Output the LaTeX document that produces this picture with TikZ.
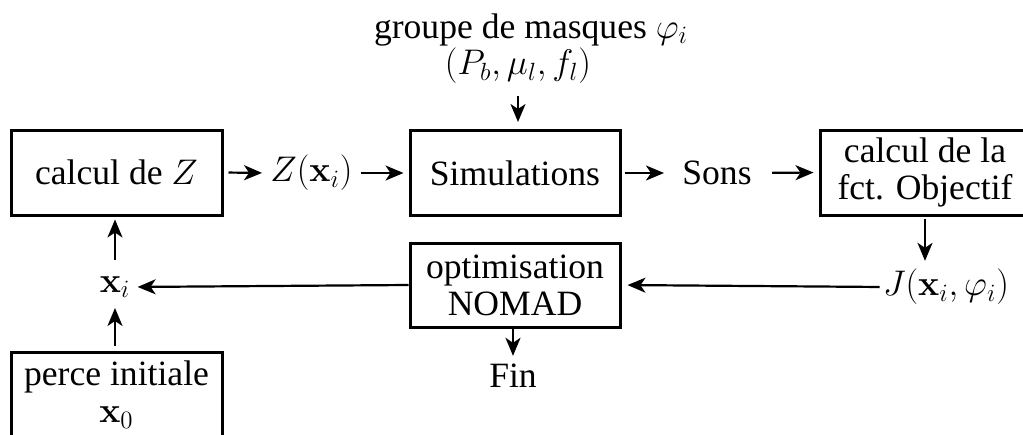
\RequirePackage{fix-cm}
\documentclass[tikz,border=0pt]{standalone}
\usepackage[no-math]{fontspec}
\setmainfont{Liberation Serif}
\usetikzlibrary{arrows.meta}
\begin{document}
\begin{tikzpicture}[x=0.5pt,y=-0.5pt,
  box/.style={draw, line width=1.5pt, inner sep=0pt, minimum height=42.5pt, align=center},
  lbl/.style={inner sep=0pt},
  arr/.style={line width=1.1pt, -{Stealth[length=9pt,width=7.5pt,inset=2.5pt]}},
  font=\fontsize{17.8}{18.5}\selectfont]
\useasboundingbox (0,0) rectangle (1023,434);
\clip (0,0) rectangle (1023,434);
\node[box, minimum width=105.5pt] (calcZ) at (116.5,172.5) {calcul de $Z$};
\node[lbl] (Zx) at (311.5,173) {$Z(\mathbf{x}_i)$};
\node[box, minimum width=105pt] (sim) at (515,173) {Simulations};
\node[lbl] (sons) at (717,173) {Sons};
\node[box, minimum width=105pt] (obj) at (925,172.5) {calcul de la\\fct. Objectif};
\node[lbl] (J) at (946,287) {$J(\mathbf{x}_i,\varphi_i)$};
\node[box, minimum width=105pt, minimum height=42pt] (nomad) at (515,285) {optimisation\\NOMAD};
\node[lbl] (xi) at (115,287) {$\mathbf{x}_i$};
\node[box, minimum width=105.5pt] (perce) at (116.5,394.5) {perce initiale\\$\mathbf{x}_0$};
\node[lbl] (fin) at (513,376) {Fin};
\node[lbl] (grp) at (531,30) {groupe de masques $\varphi_i$};
\node[lbl] (par) at (518,66) {$(P_b,\mu_l,f_l)$};
\draw[arr, shorten <=2.5pt, shorten >=4pt] (calcZ.east) -- (Zx.west);
\draw[arr, shorten <=4pt, shorten >=2.5pt] (Zx.east) -- (sim.west);
\draw[arr, shorten <=1.5pt, shorten >=9pt] (sim.east) -- (sons.west);
\draw[arr, shorten <=10pt, shorten >=2.5pt] (sons.east) -- (obj.west);
\draw[arr, shorten <=1pt, shorten >=4pt] (obj.south) -- (obj.south |- J.north);
\draw[arr, shorten <=1.5pt, shorten >=3pt] (J.west) -- (nomad.east);
\draw[arr, shorten >=3.5pt] (nomad.west) -- (xi.east);
\draw[arr, shorten <=8pt, shorten >=1.5pt] (xi.north) -- (calcZ.south -| xi.north);
\draw[arr, shorten <=2.5pt, shorten >=5pt] (perce.north -| xi.south) -- (xi.south);
\draw[arr, shorten >=4pt] (nomad.south -| fin.north) -- (fin.north);
\draw[arr, shorten <=6pt, shorten >=3.5pt] (par.south) -- (par.south |- sim.north);
\end{tikzpicture}
\end{document}
